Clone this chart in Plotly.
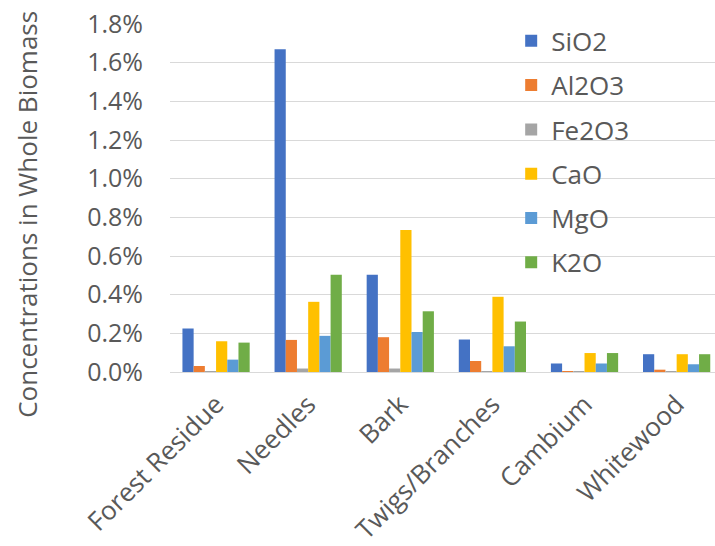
import plotly.graph_objects as go

# Biomass fractions on the category axis
categories = ["Forest Residue", "Needles", "Bark", "Twigs/Branches", "Cambium", "Whitewood"]

# Oxide concentrations in whole biomass, in percent
sio2 = [0.225, 1.670, 0.503, 0.168, 0.044, 0.092]
al2o3 = [0.031, 0.166, 0.180, 0.057, 0.005, 0.012]
fe2o3 = [0.004, 0.018, 0.018, 0.005, 0.003, 0.003]
cao = [0.159, 0.363, 0.734, 0.389, 0.098, 0.092]
mgo = [0.064, 0.187, 0.207, 0.133, 0.044, 0.040]
k2o = [0.152, 0.503, 0.314, 0.261, 0.098, 0.092]

series_names = ["SiO2", "Al2O3", "Fe2O3", "CaO", "MgO", "K2O"]
series_values = [sio2, al2o3, fe2o3, cao, mgo, k2o]
series_colors = ["#4472C4", "#ED7D31", "#A5A5A5", "#FFC000", "#5B9BD5", "#70AD47"]

y_ticks = [0.0, 0.2, 0.4, 0.6, 0.8, 1.0, 1.2, 1.4, 1.6, 1.8]

FONT = "Open Sans"
TEXT = "#595959"
GRID = "#D9D9D9"

W, H = 715, 546
L, T, B = 169.5, 24, 174.3
plot_w = W - L
plot_h = H - T - B
cat_px = 92.2

fig = go.Figure()
for name, vals, col in zip(series_names, series_values, series_colors):
    fig.add_trace(go.Bar(
        name=name, x=categories, y=vals,
        marker=dict(color=col, line=dict(width=0)),
        legendgroup=name,
    ))

x_right = -0.5 + plot_w / cat_px

fig.update_layout(
    width=W, height=H,
    margin=dict(l=L, r=0, t=T, b=B, pad=0, autoexpand=False),
    paper_bgcolor="white", plot_bgcolor="white",
    font=dict(family=FONT, size=25, color=TEXT),
    barmode="group", bargap=0.27, bargroupgap=0,
    showlegend=True,
    legend=dict(
        x=(511 - L) / plot_w, xanchor="left",
        y=1.019, yanchor="top",
        bgcolor="rgba(0,0,0,0)",
        font=dict(family=FONT, size=26, color=TEXT),
        traceorder="grouped", tracegroupgap=7.5,
        itemclick=False, itemdoubleclick=False,
    ),
    xaxis=dict(
        range=[-0.5, x_right],
        automargin=False,
        showgrid=False, zeroline=False, showline=False,
        ticks="", tickangle=-45,
        ticklabelstandoff=11,
        tickfont=dict(family=FONT, size=26, color=TEXT),
    ),
    yaxis=dict(
        range=[0, 1.8],
        automargin=False,
        tickvals=y_ticks,
        ticktext=[f"{v:.1f}%" for v in y_ticks],
        showgrid=True, gridcolor=GRID, gridwidth=1.3,
        zeroline=True, zerolinecolor=GRID, zerolinewidth=1.3,
        showline=False, ticks="",
        ticklabelstandoff=26,
        tickfont=dict(family=FONT, size=25, color=TEXT),
    ),
    annotations=[dict(
        text="Concentrations in Whole Biomass",
        xref="paper", yref="paper",
        x=(27 - L) / plot_w, y=(H - B - 214) / plot_h,
        xanchor="center", yanchor="middle",
        textangle=-90, showarrow=False,
        font=dict(family=FONT, size=26, color=TEXT),
    )],
)

fig.write_html("out.html")
